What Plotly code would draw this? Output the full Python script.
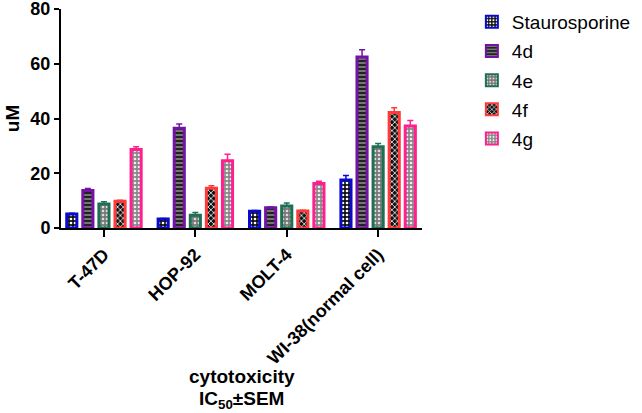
import plotly.graph_objects as go

cells = ["T-47D", "HOP-92", "MOLT-4", "WI-38(normal cell)"]
series = ["Staurosporine", "4d", "4e", "4f", "4g"]
ic50 = {
    "Staurosporine": [5.1, 3.3, 6.1, 17.5],
    "4d": [13.7, 36.4, 7.4, 62.5],
    "4e": [8.8, 4.7, 8.0, 29.7],
    "4f": [9.8, 14.5, 6.2, 42.2],
    "4g": [28.7, 24.6, 16.3, 37.3],
}
sem = {
    "Staurosporine": [0.3, 0.2, 0.3, 1.7],
    "4d": [0.7, 1.6, 0.3, 2.6],
    "4e": [0.8, 1.0, 1.1, 1.2],
    "4f": [0.3, 0.9, 0.3, 1.7],
    "4g": [1.0, 2.3, 0.8, 2.0],
}
colors = {
    "Staurosporine": "#0A0ACF",
    "4d": "#7412A6",
    "4e": "#1E7055",
    "4f": "#FF3A3A",
    "4g": "#FF1F8F",
}
pat_bg = {
    "Staurosporine": "#111111",
    "4d": "#222222",
    "4e": "#777777",
    "4f": "#111111",
    "4g": "#888888",
}
pat_fg = {
    "Staurosporine": "#FFFFFF",
    "4d": "#999999",
    "4e": "#DDDDDD",
    "4f": "#FFFFFF",
    "4g": "#EEEEEE",
}
pat_shape = {
    "Staurosporine": ".",
    "4d": "-",
    "4e": ".",
    "4f": "x",
    "4g": ".",
}

FONT = "Arial, Liberation Sans, sans-serif"

fig = go.Figure()
for s in series:
    fig.add_trace(go.Bar(
        name=s,
        legendgroup=s,
        x=cells,
        y=ic50[s],
        marker=dict(
            color=pat_bg[s],
            line=dict(color=colors[s], width=3),
            pattern=dict(shape=pat_shape[s], fgcolor=pat_fg[s], bgcolor=pat_bg[s],
                         size=4, solidity=0.35, fillmode="replace"),
        ),
        error_y=dict(type="data", symmetric=False, array=sem[s],
                     arrayminus=[0] * len(cells), color=colors[s],
                     thickness=1.5, width=3),
    ))

fig.update_layout(
    width=642, height=413,
    margin=dict(l=61, r=220, t=9, b=185, autoexpand=False),
    paper_bgcolor="white", plot_bgcolor="white",
    barmode="group", bargap=0.12, bargroupgap=0.37,
    font=dict(family=FONT, color="black"),
    showlegend=True,
    legend=dict(xref="container", yref="container",
                x=0.735, y=0.993, xanchor="left", yanchor="top",
                font=dict(size=19, family=FONT, color="black"),
                traceorder="grouped", tracegroupgap=1.5, itemsizing="constant"),
    xaxis=dict(
        range=[-0.47, 3.48],
        showline=True, linecolor="black", linewidth=2,
        ticks="outside", ticklen=7, tickwidth=2, tickcolor="black",
        tickangle=-45, ticklabeloverflow="allow",
        tickfont=dict(size=18, family=FONT, color="black", weight="bold"),
        showgrid=False, zeroline=False,
    ),
    yaxis=dict(
        range=[0, 80], tickvals=[0, 20, 40, 60, 80],
        showline=True, linecolor="black", linewidth=2,
        ticks="outside", ticklen=5, tickwidth=2, tickcolor="black",
        ticklabeloverflow="allow",
        tickfont=dict(size=18, family=FONT, color="black", weight="bold"),
        title=dict(text="uM", font=dict(size=19, family=FONT, color="black", weight="bold"),
                   standoff=6),
        showgrid=False, zeroline=False,
    ),
    annotations=[
        dict(text="cytotoxicity", xref="paper", yref="paper",
             x=0.5, y=-0.68, xanchor="center", yanchor="middle", showarrow=False,
             font=dict(size=19, family=FONT, color="black", weight="bold")),
        dict(text="IC<sub>50</sub>±SEM", xref="paper", yref="paper",
             x=0.5, y=-0.785, xanchor="center", yanchor="middle", showarrow=False,
             font=dict(size=19, family=FONT, color="black", weight="bold")),
    ],
)

fig.write_html("out.html")
